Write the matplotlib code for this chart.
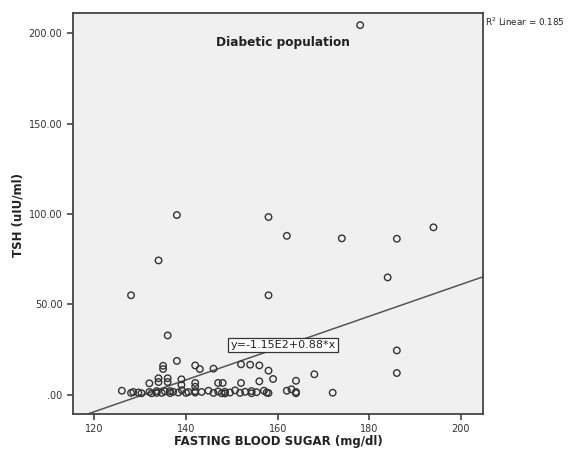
import matplotlib
matplotlib.use("Agg")
import matplotlib.pyplot as plt
from matplotlib.ticker import FuncFormatter

# Glicemia de jejum (mg/dl) e TSH (uIU/ml)
fbs_altos = [178, 138, 158, 162, 174, 186, 194, 134, 128, 158, 184, 136, 186, 186, 168, 138]
tsh_altos = [204.5, 99.4, 98.3, 87.9, 86.5, 86.3, 92.6, 74.3, 55.0, 55.0, 64.9, 32.8, 24.5, 12.0, 11.3, 18.7]

fbs_medios = [135, 135, 142, 143, 146, 152, 154, 156, 158, 159, 164, 156, 152, 147, 148,
              142, 142, 139, 139, 136, 134, 136, 134, 132]
tsh_medios = [16.0, 14.2, 16.2, 14.2, 14.4, 16.8, 16.6, 16.2, 13.3, 8.7, 7.7, 7.4, 6.5, 6.5, 6.5,
              6.5, 4.4, 8.5, 5.4, 9.1, 9.1, 7.0, 7.0, 6.3]

fbs_baixos = [126, 128, 128.5, 129.6, 130.3, 132, 132.5, 133.6, 133.6, 134.7, 135.4, 136.5, 136.5,
              137.2, 138.3, 139.1, 140, 140.5, 142, 142, 143.4, 144.9, 146, 147, 147.8, 148.5,
              148.5, 149.6, 150.7, 151.8, 152.9, 154.3, 154.3, 155.4, 157, 157.6, 158, 162, 163,
              164, 164, 172]
tsh_baixos = [2.2, 1.0, 1.5, 1.2, 0.8, 1.5, 0.8, 2.0, 1.0, 1.0, 1.8, 0.9, 2.0, 1.6, 1.2, 2.5, 1.0,
              1.5, 1.2, 2.0, 1.5, 2.2, 1.0, 1.8, 0.8, 1.6, 0.7, 1.2, 2.4, 1.0, 1.6, 0.8, 2.0, 1.4,
              2.2, 1.2, 0.9, 2.2, 3.0, 0.8, 1.5, 1.1]

fbs = fbs_altos + fbs_medios + fbs_baixos
tsh = tsh_altos + tsh_medios + tsh_baixos

# Reta de regressão (y = -1.15E2 + 0.88*x)
intercepto = -115.0
inclinacao = 0.88
xlim = (115.3, 204.7)
ylim = (-10.7, 211.3)

fig = plt.figure(figsize=(5.69, 4.58), dpi=100)
ax = fig.add_axes([0.128, 0.096, 0.72, 0.876])
ax.set_facecolor("#f0f0f0")

ax.scatter(fbs, tsh, s=22, facecolors="none", edgecolors="#333333", linewidths=1.0, zorder=3)

xr = [xlim[0], xlim[1]]
ax.plot(xr, [intercepto + inclinacao * v for v in xr], color="#555555", lw=1.1, zorder=2)

ax.set_xlim(xlim)
ax.set_ylim(ylim)
ax.set_xticks([120, 140, 160, 180, 200])
ax.set_yticks([0, 50, 100, 150, 200])
ax.yaxis.set_major_formatter(FuncFormatter(lambda v, p: ".00" if v == 0 else f"{v:.2f}"))

for s in ax.spines.values():
    s.set_color("#444444")
    s.set_linewidth(1.3)
ax.tick_params(direction="out", length=4, width=1.2, color="#444444",
               labelsize=7, labelcolor="#333333")

ax.text(161.2, 27.5, "y=-1.15E2+0.88*x", fontsize=8, ha="center", va="center", color="#222222",
        bbox=dict(boxstyle="square,pad=0.2", fc="white", ec="#333333", lw=0.9), zorder=4)
ax.text(161.2, 195, "Diabetic population", fontsize=8.7, fontweight="bold",
        ha="center", va="center", color="#222222")

fig.text(0.852, 0.952, r"R$^2$ Linear = 0.185", fontsize=6.3, ha="left", va="center", color="#222222")
fig.text(0.49, 0.035, "FASTING BLOOD SUGAR (mg/dl)", fontsize=8.5, fontweight="bold",
         ha="center", va="center", color="#222222")
fig.text(0.032, 0.53, "TSH (uIU/ml)", fontsize=8.5, fontweight="bold", rotation=90,
         ha="center", va="center", color="#222222")

fig.savefig("out.png", dpi=100)
